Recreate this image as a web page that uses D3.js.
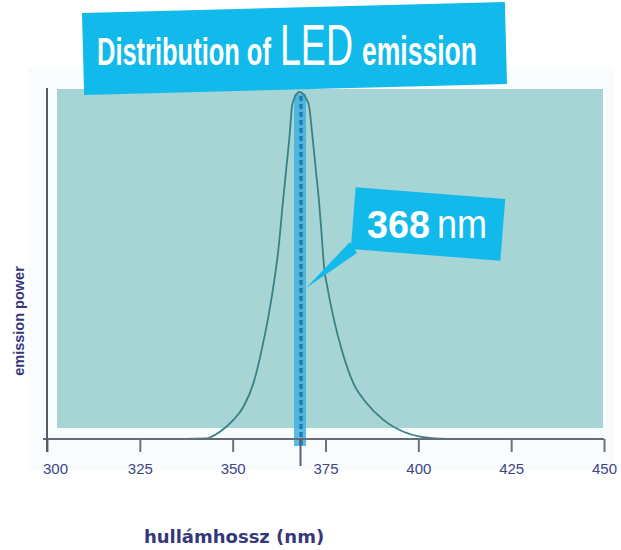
<!DOCTYPE html>
<html>
<head>
<meta charset="utf-8">
<script src="https://cdn.jsdelivr.net/npm/d3@7"></script>
<style>
  html, body { margin: 0; padding: 0; background: #ffffff; }
  svg { display: block; }
</style>
</head>
<body>
<svg id="chart" width="621" height="550"></svg>
<script>
// ---- data ----
const wavelengths = [328, 343.0, 346.6, 350.2, 352.9, 355.6, 357.8, 359.6, 361.1, 362.3, 363.5, 364.4, 365.3, 366.1, 368, 370.4, 371.5, 372.4, 373.3, 374.0, 374.7, 375.3, 377.1, 379.4, 382.5, 386.1, 390.6, 396.0, 400.5, 408];
const emissionPower = [0, 0.002, 0.021, 0.055, 0.093, 0.161, 0.256, 0.352, 0.449, 0.545, 0.679, 0.775, 0.871, 0.967, 1.0, 0.967, 0.871, 0.775, 0.679, 0.583, 0.487, 0.449, 0.352, 0.256, 0.161, 0.103, 0.055, 0.021, 0.007, 0];
const xTicks = [300, 325, 350, 375, 400, 425, 450];
const peakWavelength = [368];
const titleParts = ["Distribution of", "LED", "emission"];
const calloutParts = ["368", "nm"];
const xTitle = "hullámhossz (nm)";
const yTitle = "emission power";

const svg = d3.select("#chart");
const x = d3.scaleLinear().domain([300, 450]).range([47, 604]);
const y = d3.scaleLinear().domain([0, 1]).range([439, 92]);
const data = wavelengths.map((w, i) => ({ w, p: emissionPower[i] }));

// faint backdrop
svg.append("rect").attr("x", 28).attr("y", 68).attr("width", 586).attr("height", 402)
  .attr("fill", "#f9fcfc");

// plot panel
svg.append("rect").attr("x", 57).attr("y", 89).attr("width", 546).attr("height", 339)
  .attr("fill", "#a7d4d4");

// peak band
const px = x(peakWavelength[0]);
svg.append("rect").attr("x", px - 5.5).attr("y", 94).attr("width", 12).attr("height", 352)
  .attr("fill", "#3fb0de").attr("opacity", 0.85);
svg.append("line").attr("x1", px + 1.5).attr("x2", px + 1.5).attr("y1", 96).attr("y2", 446)
  .attr("stroke", "#1f7fb3").attr("stroke-width", 3.5).attr("stroke-dasharray", "5 3");

// emission curve
const line = d3.line().x(d => x(d.w)).y(d => y(d.p)).curve(d3.curveMonotoneX);
svg.append("path").datum(data).attr("d", line)
  .attr("fill", "none").attr("stroke", "#3a8088").attr("stroke-width", 1.8);

// x axis
const xAxis = d3.axisBottom(x).tickValues(xTicks).tickSize(13).tickSizeOuter(0);
const gx = svg.append("g").attr("transform", "translate(0,439)").call(xAxis);
gx.select(".domain").attr("stroke", "#676b74").attr("stroke-width", 2)
  .attr("d", "M" + (x(300) - 4) + ",0H" + x(450));
gx.selectAll(".tick line").attr("stroke", "#6d717a").attr("stroke-width", 2);
gx.selectAll(".tick text")
  .attr("y", 35).attr("dy", 0)
  .attr("dx", d => d === 300 ? 8 : 0)
  .attr("fill", "#3c4586")
  .style("font-family", "'Liberation Sans', Arial, sans-serif")
  .style("font-size", "15px");

// 368 tick extension
svg.append("line").attr("x1", px + 1).attr("x2", px + 1).attr("y1", 439).attr("y2", 466)
  .attr("stroke", "#5a6070").attr("stroke-width", 2);

// y axis line
svg.append("line").attr("x1", x(300)).attr("x2", x(300)).attr("y1", 88).attr("y2", 452)
  .attr("stroke", "#555a66").attr("stroke-width", 2);

// axis titles
svg.append("text").attr("x", 234).attr("y", 543).attr("text-anchor", "middle")
  .attr("fill", "#34387a").style("font-family", "'DejaVu Sans', sans-serif")
  .style("font-weight", "bold").style("font-size", "18px").text(xTitle);
svg.append("text").attr("transform", "translate(24,321) rotate(-90)").attr("text-anchor", "middle")
  .attr("fill", "#34387a").style("font-family", "'Liberation Sans', Arial, sans-serif")
  .style("font-weight", "bold").style("font-size", "14.5px").text(yTitle);

// condensed text helper: scale horizontally so the text spans exactly `len` px
const condensed = "'Liberation Sans Narrow', 'Liberation Sans', Arial, sans-serif";
function squeezed(txt, px0, base, size, weight, len) {
  const t = svg.append("text").attr("x", 0).attr("y", 0).attr("fill", "#ffffff")
    .style("font-family", condensed).style("font-size", size + "px").style("font-weight", weight)
    .text(txt);
  const natural = t.node().getComputedTextLength();
  t.attr("transform", `translate(${px0},${base}) scale(${len / natural},1)`);
  return t;
}

// title box
svg.append("rect").attr("x", -211.5).attr("y", -41).attr("width", 423).attr("height", 82)
  .attr("transform", "translate(294.5,48.5) rotate(-1.5)").attr("fill", "#12baeb");
squeezed(titleParts[0], 97, 65, 38, "bold", 174);
squeezed(titleParts[1], 280, 65, 57, "normal", 73);
squeezed(titleParts[2], 362, 65, 40, "bold", 115);

// callout
svg.append("polygon").attr("points", "350,242 357,253 306,288").attr("fill", "#12baeb");
svg.append("rect").attr("x", -75).attr("y", -31).attr("width", 150).attr("height", 62)
  .attr("transform", "translate(428,224) rotate(4.5)").attr("fill", "#12baeb");
squeezed(calloutParts[0], 367, 238, 39, "bold", 63);
squeezed(calloutParts[1], 437, 238, 40, "normal", 50);
</script>
</body>
</html>
